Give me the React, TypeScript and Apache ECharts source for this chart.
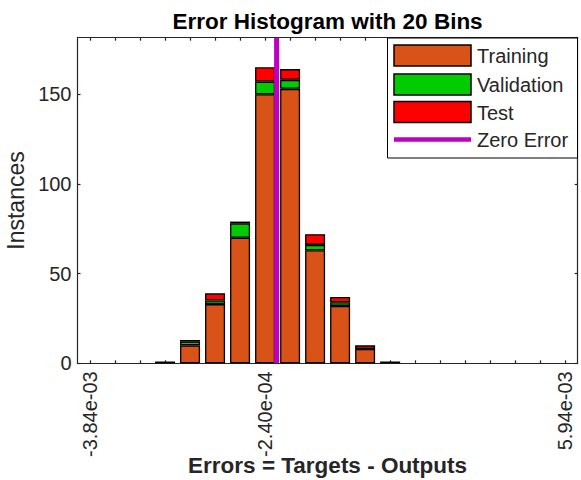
import React, { useEffect, useRef } from "react";
import * as echarts from "echarts";

const binCount = 20;
const binMin = -3.84e-3;
const binMax = 5.94e-3;
const tickLabels = [
  "-3.84e-03", "", "", "", "", "", "", "-2.40e-04", "", "",
  "", "", "", "", "", "", "", "", "", "5.94e-03",
];
const training = [0, 0, 0, 1, 10, 33, 70, 150, 153, 63, 32, 8, 1, 0, 0, 0, 0, 0, 0, 0];
const validation = [0, 0, 0, 0, 2, 2, 8, 7, 5, 3, 2, 0, 0, 0, 0, 0, 0, 0, 0, 0];
const test = [0, 0, 0, 0, 1, 4, 1, 8, 6, 6, 3, 2, 0, 0, 0, 0, 0, 0, 0, 0];
const zeroError = 0;
const yMax = 181.5;
const yTicks = [0, 50, 100, 150];

const FONT = "'Liberation Sans', Arial, Helvetica, sans-serif";
const AX = "#262626";

export default function App() {
  const ref = useRef<HTMLDivElement>(null);
  useEffect(() => {
    if (!ref.current) return;
    const chart = echarts.init(ref.current, null, { renderer: "svg" });
    const step = (binMax - binMin) / (binCount - 1);
    const cats = tickLabels.map((_, i) => String(i));
    const nz = (a: number[]) => a.map((v) => (v === 0 ? null : v));
    const barStyle = (color: string) => ({
      color,
      borderColor: "#000",
      borderWidth: 1.3,
    });
    const grid = {
      left: 77.5,
      top: 37.7,
      right: 3.3,
      bottom: 116.7,
      containLabel: false,
      outerBoundsMode: "none",
    };
    const legendX = 387.5;
    const legendItems = [
      { name: "Training", color: "#D95319", y: 45 },
      { name: "Validation", color: "#00CC00", y: 74 },
      { name: "Test", color: "#FF0000", y: 101.5 },
    ];
    const graphic: any[] = [
      {
        type: "text",
        x: 327.6,
        y: 21,
        style: {
          text: "Error Histogram with 20 Bins",
          font: `bold 22.5px ${FONT}`,
          fill: "#000",
          textAlign: "center",
          textVerticalAlign: "middle",
        },
        z: 100,
      },
      {
        type: "text",
        x: 327.6,
        y: 465,
        style: {
          text: "Errors = Targets - Outputs",
          font: `bold 22.5px ${FONT}`,
          fill: AX,
          textAlign: "center",
          textVerticalAlign: "middle",
        },
        z: 100,
      },
      {
        type: "rect",
        shape: { x: legendX, y: 38, width: 190, height: 120 },
        style: { fill: "#fff", stroke: "#000", lineWidth: 1 },
        z: 100,
      },
      ...legendItems.flatMap((it) => [
        {
          type: "rect",
          shape: { x: 394, y: it.y, width: 77, height: 21 },
          style: { fill: it.color, stroke: "#000", lineWidth: 1.5 },
          z: 101,
        },
        {
          type: "text",
          x: 477,
          y: it.y + 11,
          style: {
            text: it.name,
            font: `20px ${FONT}`,
            fill: AX,
            textVerticalAlign: "middle",
          },
          z: 101,
        },
      ]),
      {
        type: "line",
        shape: { x1: 394, y1: 139.5, x2: 471, y2: 139.5 },
        style: { stroke: "#C000C0", lineWidth: 4.5 },
        z: 101,
      },
      {
        type: "text",
        x: 477,
        y: 140,
        style: {
          text: "Zero Error",
          font: `20px ${FONT}`,
          fill: AX,
          textVerticalAlign: "middle",
        },
        z: 101,
      },
    ];

    const lineStyle = { color: AX, width: 1.2 };
    chart.setOption({
      animation: false,
      backgroundColor: "#fff",
      grid,
      xAxis: [
        {
          type: "category",
          data: cats,
          position: "bottom",
          boundaryGap: true,
          axisLine: { show: true, onZero: false, lineStyle },
          axisTick: { show: true, inside: true, length: 3, alignWithLabel: true, interval: 0, lineStyle },
          axisLabel: {
            show: true,
            interval: 0,
            rotate: 90,
            margin: 8,
            fontFamily: FONT,
            fontSize: 20,
            color: AX,
            formatter: (v: string) => tickLabels[Number(v)],
          },
          splitLine: { show: false },
        },
        {
          type: "category",
          data: cats,
          position: "top",
          boundaryGap: true,
          axisLine: { show: true, onZero: false, lineStyle },
          axisTick: { show: true, inside: true, length: 3, alignWithLabel: true, interval: 0, lineStyle },
          axisLabel: { show: false },
          splitLine: { show: false },
        },
        {
          type: "value",
          min: binMin - step / 2,
          max: binMax + step / 2,
          show: false,
          axisLine: { onZero: false },
          splitLine: { show: false },
        },
      ],
      yAxis: [
        {
          type: "value",
          min: 0,
          max: yMax,
          interval: 50,
          name: "Instances",
          nameLocation: "middle",
          nameGap: 50,
          nameTextStyle: { fontFamily: FONT, fontSize: 23, color: AX },
          axisLine: { show: true, onZero: false, lineStyle },
          axisTick: { show: true, inside: true, length: 3, lineStyle },
          axisLabel: {
            fontFamily: FONT,
            fontSize: 20,
            color: AX,
            margin: 6,
            showMaxLabel: false,
            formatter: (v: number) => (yTicks.includes(v) ? String(v) : ""),
          },
          splitLine: { show: false },
        },
        {
          type: "value",
          min: 0,
          max: yMax,
          interval: 50,
          position: "right",
          axisLine: { show: true, onZero: false, lineStyle },
          axisTick: { show: true, inside: true, length: 3, lineStyle },
          axisLabel: { show: false },
          splitLine: { show: false },
        },
      ],
      series: [
        {
          name: "Training",
          type: "bar",
          stack: "total",
          barWidth: 20,
          data: nz(training),
          itemStyle: barStyle("#D95319"),
        },
        {
          name: "Validation",
          type: "bar",
          stack: "total",
          barWidth: 20,
          data: nz(validation),
          itemStyle: barStyle("#00CC00"),
        },
        {
          name: "Test",
          type: "bar",
          stack: "total",
          barWidth: 20,
          data: nz(test),
          itemStyle: barStyle("#FF0000"),
        },
        {
          name: "Zero Error",
          type: "line",
          xAxisIndex: 2,
          yAxisIndex: 0,
          symbol: "none",
          data: [
            [zeroError, 0],
            [zeroError, yMax],
          ],
          lineStyle: { color: "#C000C0", width: 5 },
          z: 10,
        },
      ],
      graphic,
    });
    return () => chart.dispose();
  }, []);
  return (
    <div
      ref={ref}
      style={{ position: "fixed", left: 0, top: 0, width: 581, height: 480, background: "#fff" }}
    />
  );
}
